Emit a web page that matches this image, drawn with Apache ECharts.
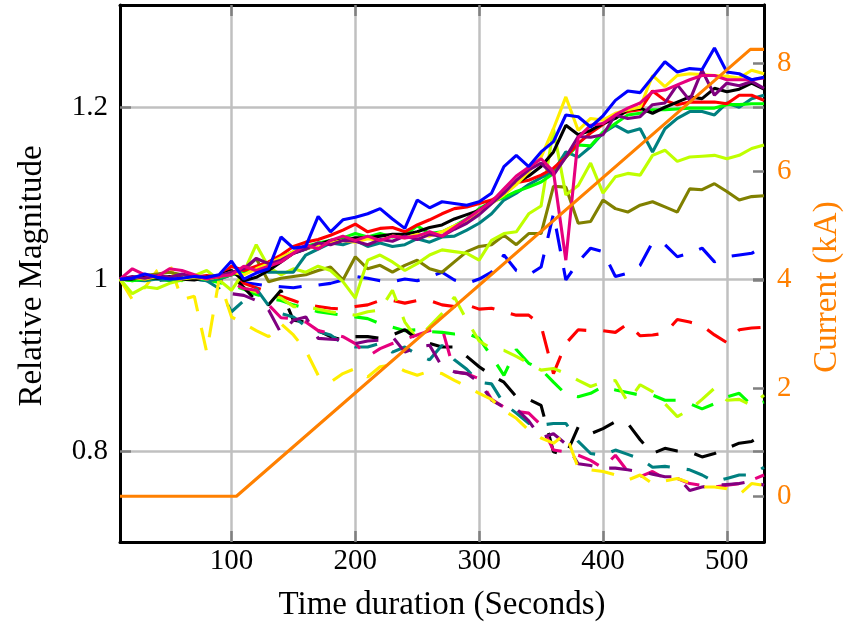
<!DOCTYPE html>
<html><head><meta charset="utf-8">
<script src="https://cdn.jsdelivr.net/npm/echarts@6/dist/echarts.min.js"></script>
<style>html,body{margin:0;padding:0;background:#fff}#chart{width:844px;height:626px}</style>
</head><body><div id="chart"></div>
<script>
const time = [10,20,30,40,50,60,70,80,90,100,110,120,130,140,150,160,170,180,190,200,210,220,230,240,250,260,270,280,290,300,310,320,330,340,350,360,370,380,390,400,410,420,430,440,450,460,470,480,490,500,510,520,530];
const xTicks = [100,200,300,400,500];
const leftTicks = [0.8,1,1.2];
const rightTicks = [0,2,4,6,8];

const blueSolid = [1.000,1.001,1.006,1.002,1.000,1.001,1.003,1.002,1.005,1.021,
 1.000,1.007,1.012,1.049,1.036,1.038,1.073,1.055,1.069,1.072,
 1.076,1.082,1.070,1.059,1.092,1.083,1.090,1.088,1.086,1.090,
 1.100,1.131,1.144,1.131,1.148,1.160,1.191,1.189,1.177,1.190,
 1.208,1.219,1.217,1.235,1.253,1.241,1.245,1.244,1.269,1.241,
 1.239,1.232,1.235];
const redSolid = [1.000,1.002,1.000,1.003,1.001,1.000,1.002,1.004,1.002,1.015,
 1.010,1.015,1.020,1.028,1.038,1.043,1.046,1.051,1.057,1.064,
 1.055,1.059,1.060,1.055,1.063,1.069,1.076,1.082,1.084,1.088,
 1.092,1.100,1.112,1.115,1.121,1.129,1.142,1.158,1.170,1.180,
 1.190,1.195,1.197,1.219,1.208,1.203,1.206,1.206,1.206,1.204,
 1.214,1.214,1.208];
const greenSolid = [1.000,0.998,1.000,1.002,1.000,0.999,1.001,1.000,1.002,1.005,
 1.008,1.012,1.018,1.025,1.032,1.038,1.042,1.045,1.048,1.053,
 1.049,1.053,1.049,1.051,1.062,1.053,1.055,1.062,1.070,1.082,
 1.090,1.095,1.102,1.107,1.113,1.123,1.142,1.156,1.155,1.171,
 1.181,1.191,1.193,1.197,1.197,1.198,1.199,1.199,1.199,1.203,
 1.203,1.204,1.204];
const blackSolid = [1.000,1.000,1.002,1.001,1.003,1.000,0.999,1.002,1.004,1.010,
 0.998,1.002,1.010,1.020,1.030,1.035,1.040,1.045,1.045,1.048,
 1.048,1.050,1.052,1.052,1.055,1.060,1.063,1.070,1.075,1.080,
 1.090,1.100,1.112,1.120,1.131,1.148,1.179,1.168,1.173,1.181,
 1.187,1.197,1.199,1.193,1.200,1.206,1.212,1.210,1.222,1.218,
 1.221,1.228,1.221];
const magentaSolid = [1.000,1.012,1.005,1.003,1.012,1.010,1.005,1.000,1.003,1.005,
 1.015,1.010,1.015,1.020,1.030,1.040,1.035,1.045,1.050,1.045,
 1.050,1.045,1.050,1.048,1.050,1.055,1.050,1.060,1.070,1.080,
 1.090,1.105,1.120,1.130,1.140,1.125,1.022,1.165,1.179,1.181,
 1.191,1.199,1.205,1.218,1.220,1.226,1.232,1.237,1.237,1.232,
 1.232,1.232,1.234];
const purpleSolid = [1.000,1.003,1.001,1.004,1.002,1.006,1.003,1.001,1.004,1.008,
 1.012,1.024,1.018,1.022,1.030,1.035,1.042,1.040,1.045,1.044,
 1.040,1.046,1.044,1.050,1.046,1.052,1.050,1.058,1.065,1.075,
 1.088,1.100,1.115,1.127,1.135,1.121,1.142,1.166,1.165,1.168,
 1.191,1.187,1.189,1.203,1.205,1.226,1.208,1.243,1.214,1.228,
 1.225,1.230,1.222];
const tealSolid = [1.000,0.999,0.998,1.000,0.999,1.001,1.000,0.998,1.000,1.005,
 1.012,1.010,1.008,1.008,1.008,1.028,1.035,1.042,1.040,1.045,
 1.038,1.042,1.038,1.040,1.047,1.043,1.049,1.050,1.057,1.065,
 1.076,1.092,1.100,1.110,1.118,1.125,1.148,1.142,1.154,1.170,
 1.179,1.171,1.175,1.148,1.175,1.187,1.195,1.195,1.191,1.205,
 1.200,1.210,1.214];
const yellowSolid = [1.000,1.002,1.000,1.003,1.001,1.000,1.002,1.000,1.003,1.008,
 1.005,1.012,1.018,1.025,1.032,1.035,1.040,1.042,1.045,1.043,
 1.047,1.045,1.050,1.048,1.052,1.050,1.055,1.062,1.068,1.078,
 1.088,1.098,1.110,1.125,1.142,1.175,1.212,1.173,1.187,1.185,
 1.193,1.197,1.200,1.237,1.224,1.237,1.239,1.238,1.237,1.236,
 1.234,1.243,1.239];
const yellowGreenSolid = [1.000,0.983,0.991,0.989,0.995,0.999,1.004,1.010,0.999,0.987,
 1.008,1.040,1.014,1.005,1.012,1.008,1.015,1.010,0.997,0.978,
 1.022,1.028,1.020,1.010,1.018,1.028,1.034,1.032,1.030,1.022,
 1.045,1.053,1.055,1.076,1.085,1.175,1.098,1.109,1.135,1.100,
 1.119,1.123,1.121,1.144,1.150,1.137,1.142,1.143,1.144,1.140,
 1.144,1.152,1.156];
const oliveSolid = [1.000,1.002,1.004,1.006,1.008,1.005,1.003,1.002,1.000,1.005,
 1.010,1.024,0.997,1.001,1.003,1.005,1.010,1.014,0.999,1.026,
 1.012,1.016,1.008,1.016,1.022,1.012,1.008,1.020,1.032,1.038,
 1.040,1.051,1.040,1.053,1.053,1.108,1.107,1.065,1.067,1.092,
 1.082,1.078,1.086,1.090,1.084,1.078,1.105,1.104,1.111,1.102,
 1.092,1.096,1.097];

const blueDashed = [1.000,1.001,1.000,1.002,1.000,1.001,0.999,1.000,1.001,1.000,
 0.996,0.994,0.992,0.991,0.990,0.992,0.993,0.995,0.999,1.003,
 1.001,0.998,0.997,1.000,0.998,1.003,1.008,0.999,0.995,1.000,
 1.008,1.028,1.010,1.005,1.014,1.076,0.999,1.020,1.036,1.032,
 1.003,1.007,1.016,1.043,1.040,1.026,1.030,1.036,1.020,1.026,
 1.028,1.030,1.038];
const redDashed = [1.000,1.001,1.000,0.999,1.001,1.000,1.002,1.000,0.999,1.000,
 0.995,0.990,0.985,0.980,0.975,0.970,0.968,0.966,0.965,0.968,
 0.970,0.975,0.975,0.972,0.975,0.975,0.970,0.968,0.970,0.965,
 0.966,0.962,0.958,0.958,0.946,0.890,0.925,0.941,0.940,0.940,
 0.938,0.948,0.934,0.935,0.937,0.953,0.950,0.946,0.935,0.926,
 0.941,0.943,0.944];
const greenDashed = [1.000,0.999,1.001,1.000,0.998,1.000,1.001,0.999,0.996,0.993,
 0.988,0.982,0.978,0.975,0.970,0.966,0.962,0.960,0.958,0.956,
 0.954,0.948,0.944,0.940,0.941,0.939,0.938,0.936,0.937,0.931,
 0.910,0.888,0.918,0.902,0.895,0.880,0.866,0.863,0.867,0.875,
 0.871,0.868,0.865,0.865,0.859,0.859,0.855,0.849,0.855,0.863,
 0.867,0.853,0.857];
const yellowGreenDashed = [1.000,0.998,1.001,0.999,1.000,0.998,1.001,0.999,1.000,0.995,
 0.990,0.985,0.982,0.978,0.968,0.968,0.965,0.962,0.960,0.958,
 0.962,0.964,0.987,0.950,0.930,0.945,0.960,0.979,0.952,0.928,
 0.919,0.917,0.910,0.902,0.894,0.896,0.890,0.882,0.875,0.880,
 0.882,0.857,0.877,0.869,0.855,0.840,0.848,0.860,0.873,0.859,
 0.860,0.853,0.865];
const blackDashed = [1.000,1.001,0.999,1.000,1.002,1.000,0.999,1.001,1.003,1.005,
 0.990,0.975,0.970,0.987,0.952,0.950,0.940,0.933,0.929,0.933,
 0.933,0.931,0.935,0.941,0.930,0.925,0.921,0.921,0.910,0.898,
 0.888,0.880,0.863,0.860,0.853,0.799,0.795,0.828,0.820,0.826,
 0.834,0.832,0.813,0.797,0.803,0.800,0.799,0.793,0.797,0.803,
 0.809,0.811,0.820];
const tealDashed = [1.000,0.999,1.001,0.998,1.000,0.999,1.001,0.998,0.989,0.962,
 0.975,0.989,0.969,0.960,0.956,0.945,0.939,0.935,0.925,0.921,
 0.921,0.925,0.915,0.921,0.912,0.906,0.923,0.906,0.895,0.880,
 0.878,0.855,0.844,0.832,0.830,0.832,0.832,0.811,0.797,0.795,
 0.801,0.796,0.791,0.781,0.782,0.780,0.778,0.772,0.764,0.768,
 0.772,0.772,0.781];
const magentaDashed = [1.000,1.001,0.999,1.000,1.002,1.000,0.998,1.001,1.000,0.996,
 0.989,0.987,0.970,0.955,0.954,0.950,0.940,0.937,0.933,0.925,
 0.910,0.919,0.925,0.930,0.935,0.940,0.943,0.892,0.890,0.884,
 0.860,0.851,0.846,0.844,0.830,0.801,0.799,0.795,0.789,0.780,
 0.795,0.776,0.770,0.776,0.768,0.768,0.762,0.760,0.758,0.760,
 0.762,0.766,0.772];
const purpleDashed = [1.000,1.000,1.001,0.999,1.000,1.002,1.000,0.999,1.000,0.983,
 0.981,0.975,0.964,0.937,0.952,0.956,0.931,0.930,0.929,0.925,
 0.928,0.929,0.933,0.915,0.921,0.923,0.898,0.892,0.890,0.880,
 0.859,0.851,0.849,0.835,0.815,0.820,0.808,0.785,0.783,0.780,
 0.780,0.778,0.776,0.773,0.770,0.770,0.754,0.758,0.760,0.761,
 0.762,0.765,0.760];
const yellowDashed = [1.000,0.976,0.990,1.010,1.018,0.976,0.980,0.915,1.000,0.956,
 0.948,0.940,0.933,0.948,0.935,0.917,0.888,0.880,0.890,0.896,
 0.886,0.898,0.900,0.893,0.888,0.893,0.890,0.882,0.875,0.867,
 0.860,0.847,0.838,0.824,0.815,0.809,0.820,0.780,0.778,0.776,
 0.772,0.766,0.772,0.762,0.765,0.768,0.763,0.758,0.758,0.756,
 0.749,0.762,0.760];

const currentTime = [10,104,519,530];
const currentKA = [0,0,8.26,8.26];

const FONT = 'Liberation Serif';
const C = {blue:'#0000ff', red:'#ff0000', green:'#00ff00', black:'#000000', magenta:'#e6007e',
  purple:'#800080', teal:'#008080', yellow:'#ffee00', yellowGreen:'#bfff00', olive:'#808000', orange:'#ff8000'};

function mk(name, vals, color, dashed) {
  return {
    name: name, type: 'line', xAxisIndex: 0, yAxisIndex: 0,
    data: time.map((t, i) => [t, vals[i]]),
    symbol: 'none', showSymbol: false, silent: true, animation: false,
    lineStyle: { color: color, width: 3.1, type: dashed ? [23, 17] : 'solid', cap: 'butt' },
    itemStyle: { color: color }
  };
}

const series = [
  mk('blueD', blueDashed, C.blue, true),
  mk('redD', redDashed, C.red, true),
  mk('greenD', greenDashed, C.green, true),
  mk('ygD', yellowGreenDashed, C.yellowGreen, true),
  mk('blackD', blackDashed, C.black, true),
  mk('tealD', tealDashed, C.teal, true),
  mk('magentaD', magentaDashed, C.magenta, true),
  mk('purpleD', purpleDashed, C.purple, true),
  mk('yellowD', yellowDashed, C.yellow, true),
  mk('olive', oliveSolid, C.olive, false),
  mk('yg', yellowGreenSolid, C.yellowGreen, false),
  mk('teal', tealSolid, C.teal, false),
  mk('green', greenSolid, C.green, false),
  mk('red', redSolid, C.red, false),
  mk('black', blackSolid, C.black, false),
  mk('yellow', yellowSolid, C.yellow, false),
  mk('purple', purpleSolid, C.purple, false),
  mk('magenta', magentaSolid, C.magenta, false),
  mk('blue', blueSolid, C.blue, false),
  {
    name: 'Current', type: 'line', xAxisIndex: 0, yAxisIndex: 1,
    data: currentTime.map((t, i) => [t, currentKA[i]]),
    symbol: 'none', showSymbol: false, silent: true, animation: false,
    lineStyle: { color: C.orange, width: 3.1 }, itemStyle: { color: C.orange }, z: 5
  }
];

const axisLine = { show: true, onZero: false, lineStyle: { color: '#000', width: 3 } };
const tick = (vals) => ({ show: true, inside: true, length: 11, customValues: vals, lineStyle: { color: '#808080', width: 2.5 } });

const option = {
  animation: false,
  backgroundColor: '#fff',
  grid: { left: 120, top: 5, width: 644, height: 537, containLabel: false },
  xAxis: [
    { type: 'value', position: 'bottom', min: 10, max: 530, axisLine: axisLine, axisTick: tick(xTicks),
      axisLabel: { customValues: xTicks, margin: 5, fontFamily: FONT, fontSize: 29, color: '#000' },
      splitLine: { show: true, lineStyle: { color: '#c0c0c0', width: 2.5 } } },
    { type: 'value', position: 'top', min: 10, max: 530, axisLine: axisLine, axisTick: tick(xTicks),
      axisLabel: { show: false }, splitLine: { show: false } }
  ],
  yAxis: [
    { type: 'value', position: 'left', min: 0.694, max: 1.319, axisLine: axisLine, axisTick: tick(leftTicks),
      axisLabel: { customValues: leftTicks, margin: 12, fontFamily: FONT, fontSize: 29, color: '#000' },
      splitLine: { show: true, lineStyle: { color: '#c0c0c0', width: 2.5 } } },
    { type: 'value', position: 'right', min: -0.845, max: 9.08, axisLine: axisLine, axisTick: tick(rightTicks),
      axisLabel: { customValues: rightTicks, margin: 13, fontFamily: FONT, fontSize: 29, color: C.orange },
      splitLine: { show: false } },
    { type: 'value', position: 'right', min: 0.694, max: 1.319, axisLine: axisLine, axisTick: tick(leftTicks),
      axisLabel: { show: false }, splitLine: { show: false } }
  ],
  graphic: [
    { type: 'text', x: 32, y: 276, rotation: Math.PI / 2,
      style: { text: 'Relative Magnitude', font: '33px "Liberation Serif"', fill: '#000', textAlign: 'center', textVerticalAlign: 'middle' } },
    { type: 'text', x: 827, y: 287, rotation: Math.PI / 2,
      style: { text: 'Current (kA)', font: '33px "Liberation Serif"', fill: C.orange, textAlign: 'center', textVerticalAlign: 'middle' } },
    { type: 'text', x: 442, y: 605,
      style: { text: 'Time duration (Seconds)', font: '33px "Liberation Serif"', fill: '#000', textAlign: 'center', textVerticalAlign: 'middle' } }
  ],
  series: series
};

const chart = echarts.init(document.getElementById('chart'), null, { renderer: 'canvas' });
chart.setOption(option);
</script></body></html>
